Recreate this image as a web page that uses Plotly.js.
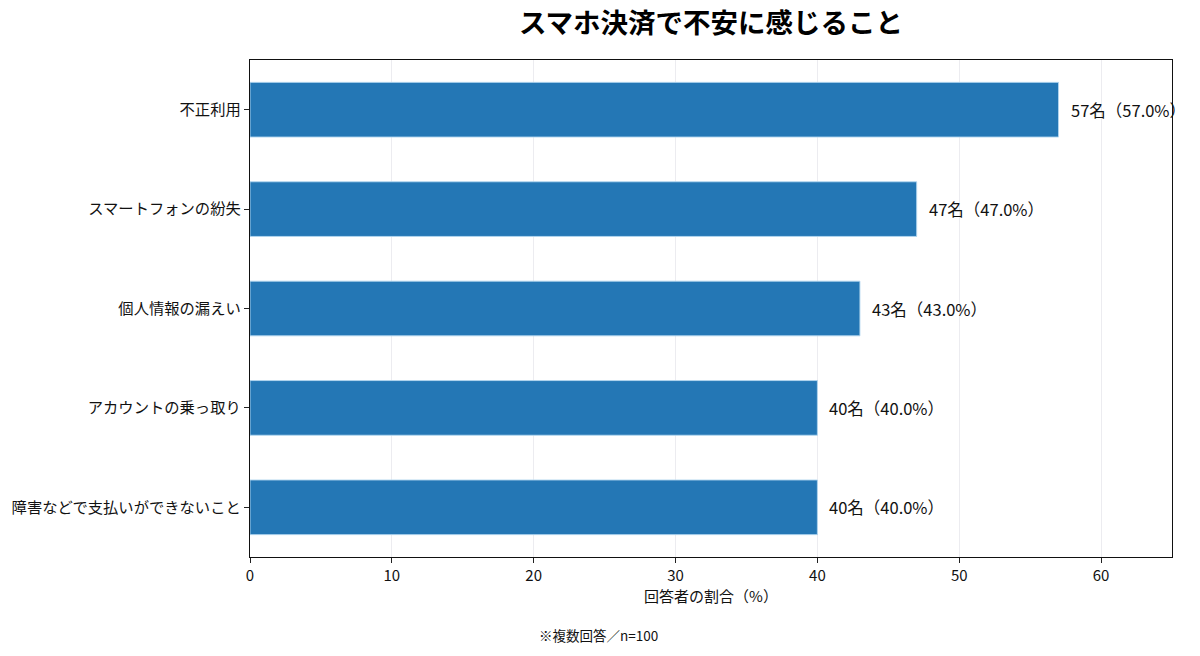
<!DOCTYPE html>
<html><head><meta charset="utf-8">
<script src="https://cdn.plot.ly/plotly-3.0.1.min.js"></script>
<style>html,body{margin:0;padding:0;background:#fff;}#chart{width:1200px;height:656px;}</style>
</head><body><div id="chart"></div>
<script>
const categories = ["不正利用","スマートフォンの紛失","個人情報の漏えい","アカウントの乗っ取り","障害などで支払いができないこと"];
const counts = [57, 47, 43, 40, 40];
const percents = [57.0, 47.0, 43.0, 40.0, 40.0];
const xTicks = [0, 10, 20, 30, 40, 50, 60];

const font = "'Noto Sans CJK JP', 'Noto Sans', sans-serif";
const labels = counts.map((c,i)=> c + "名（" + percents[i].toFixed(1) + "%）");

const trace = {
  type: "bar", orientation: "h",
  x: percents, y: categories,
  width: 0.55,
  marker: {color: "#2477b5", line: {color: "rgba(180,215,240,0.9)", width: 1}},
  hoverinfo: "none"
};

const labelAnnotations = labels.map((t,i)=>({
  text: t, x: percents[i], y: categories[i], xref: "x", yref: "y",
  xanchor: "left", yanchor: "middle", xshift: 10, showarrow: false,
  font: {family: font, size: 16.5, color: "#111"}
}));

const layout = {
  width: 1200, height: 656,
  margin: {l: 250, r: 28, t: 60, b: 99},
  paper_bgcolor: "#fff", plot_bgcolor: "#fff",
  font: {family: font, color: "#111"},
  title: {text: "<b>スマホ決済で不安に感じること</b>", font: {family: font, size: 27.5, color: "#000"},
          x: 0.5925, xanchor: "center", y: 0.965, yanchor: "middle"},
  xaxis: {range: [0, 65], tickvals: xTicks, ticks: "outside", ticklen: 5, tickcolor: "#222",
          showgrid: true, gridcolor: "#ececf0", gridwidth: 1, zeroline: false,
          showline: true, linecolor: "#111", linewidth: 1.2, mirror: true,
          tickfont: {family: font, size: 15, color: "#111"},
          title: {text: "回答者の割合（%）", font: {family: font, size: 15, color: "#111"}, standoff: 4}},
  yaxis: {autorange: "reversed", ticks: "outside", ticklen: 5, tickcolor: "#222",
          showline: true, linecolor: "#111", linewidth: 1.2, mirror: true, showgrid: false,
          tickfont: {family: font, size: 15.3, color: "#111"}, range: [4.5, -0.5]},
  bargap: 0.45,
  showlegend: false,
  annotations: labelAnnotations.concat([{text: "※複数回答／n=100", xref: "paper", yref: "paper", x: 0.3775, y: -0.157,
                 xanchor: "center", yanchor: "middle", showarrow: false,
                 font: {family: font, size: 13.5, color: "#111"}}])
};
Plotly.newPlot("chart", [trace], layout, {displayModeBar: false, staticPlot: true});
</script></body></html>
